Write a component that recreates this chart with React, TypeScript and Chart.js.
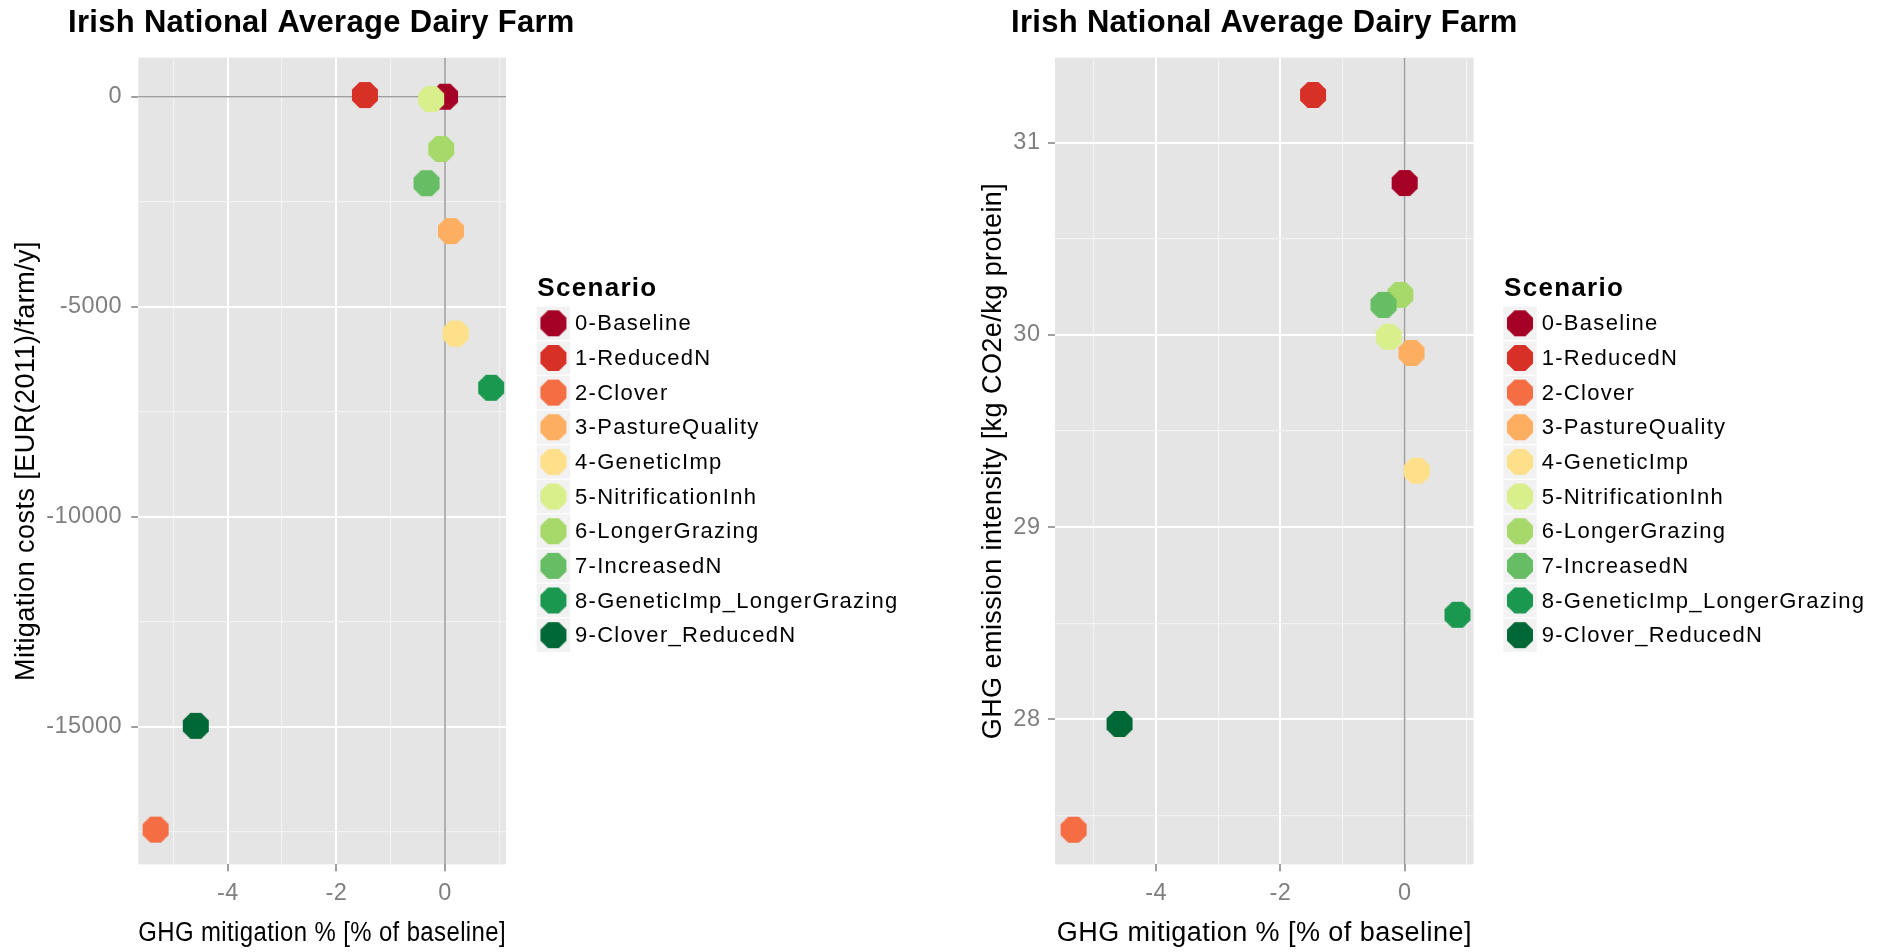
import React, { useEffect, useRef } from 'react';
import { Chart, registerables } from 'chart.js';

Chart.register(...registerables);

const FONT = "'Liberation Sans', Arial, Helvetica, sans-serif";
Chart.defaults.font.family = FONT;

// ---------- data ----------
const scenarios = [
  '0-Baseline',
  '1-ReducedN',
  '2-Clover',
  '3-PastureQuality',
  '4-GeneticImp',
  '5-NitrificationInh',
  '6-LongerGrazing',
  '7-IncreasedN',
  '8-GeneticImp_LongerGrazing',
  '9-Clover_ReducedN',
];

const scenarioColors = [
  '#A50026',
  '#D73027',
  '#F46D43',
  '#FDAE61',
  '#FEE08B',
  '#D9EF8B',
  '#A6D96A',
  '#66BD63',
  '#1A9850',
  '#006837',
];

// GHG mitigation % [% of baseline]
const ghgMitigationPct = [0, -1.475, -5.33, 0.11, 0.195, -0.255, -0.07, -0.34, 0.85, -4.59];
// Mitigation costs [EUR(2011)/farm/y]
const mitigationCosts = [0, 40, -17450, -3200, -5640, -55, -1245, -2060, -6930, -14980];
// GHG emission intensity [kg CO2e/kg protein]
const emissionIntensity = [30.79, 31.248, 27.426, 29.906, 29.293, 29.99, 30.208, 30.156, 28.544, 27.976];

const xMajorTicks = [-4, -2, 0];
const xMinorTicks = [-5, -3, -1, 1];
const costMajorTicks = [-15000, -10000, -5000, 0];
const costMinorTicks = [-17500, -12500, -7500, -2500];
const intensityMajorTicks = [28, 29, 30, 31];
const intensityMinorTicks = [27.5, 28.5, 29.5, 30.5];

const chartTitle = 'Irish National Average Dairy Farm';
const legendTitle = 'Scenario';
const xAxisTitle = 'GHG mitigation % [% of baseline]';
const costAxisTitle = 'Mitigation costs [EUR(2011)/farm/y]';
const intensityAxisTitle = 'GHG emission intensity [kg CO2e/kg protein]';

// ---------- styling ----------
const CANVAS_W = 943;
const CANVAS_H = 952;
const PANEL_BG = '#E5E5E5';
const MINOR_GRID = '#F2F2F2';
const TICK_GREY = '#7F7F7F';
const ZERO_LINE = '#9E9E9E';

function makeOctagon(color: string): HTMLCanvasElement {
  const size = 28;
  const c = document.createElement('canvas');
  c.width = size;
  c.height = size;
  const g = c.getContext('2d')!;
  const cx = size / 2;
  const cy = size / 2;
  const apothem = 13;
  const R = apothem / Math.cos(Math.PI / 8);
  g.beginPath();
  for (let k = 0; k < 8; k++) {
    const a = Math.PI / 8 + (k * Math.PI) / 4;
    const px = cx + R * Math.cos(a);
    const py = cy + R * Math.sin(a);
    if (k === 0) g.moveTo(px, py);
    else g.lineTo(px, py);
  }
  g.closePath();
  g.fillStyle = color;
  g.fill();
  return c;
}

type PanelSpec = {
  yValues: number[];
  yMin: number;
  yMax: number;
  xMin: number;
  xMax: number;
  yMajor: number[];
  yMinor: number[];
  yTitle: string;
  yAxisWidth: number;
  yTitlePadTop: number;
  yTickPad: number;
  paddingRight: number;
  legendBoxX: number;
  legendTextX: number;
  legendTitleX: number;
};

function buildConfig(spec: PanelSpec): any {
  const datasets = scenarios.map((name, i) => ({
    label: name,
    data: [{ x: ghgMitigationPct[i], y: spec.yValues[i] }],
    backgroundColor: scenarioColors[i],
    borderWidth: 0,
    pointRadius: 13,
    pointHoverRadius: 13,
    pointStyle: makeOctagon(scenarioColors[i]),
    order: -i,
  }));

  const isMajorX = (v: number) => xMajorTicks.includes(v);
  const isMajorY = (v: number) => spec.yMajor.includes(v);

  const decorPlugin = {
    id: 'decor',
    beforeDraw(chart: any) {
      const { ctx, chartArea } = chart;
      ctx.save();
      ctx.fillStyle = PANEL_BG;
      ctx.fillRect(chartArea.left, chartArea.top, chartArea.right - chartArea.left, chartArea.bottom - chartArea.top);
      ctx.restore();
      // wider glyph spacing for axis text, like the reference rendering
      (ctx as any).letterSpacing = '0.45px';
    },
    beforeDatasetsDraw(chart: any) {
      const { ctx, chartArea, scales } = chart;
      ctx.save();
      ctx.strokeStyle = ZERO_LINE;
      ctx.lineWidth = 1.6;
      const x0 = scales.x.getPixelForValue(0);
      if (x0 >= chartArea.left && x0 <= chartArea.right) {
        ctx.beginPath();
        ctx.moveTo(x0, chartArea.top);
        ctx.lineTo(x0, chartArea.bottom);
        ctx.stroke();
      }
      if (0 >= spec.yMin && 0 <= spec.yMax) {
        const y0 = scales.y.getPixelForValue(0);
        ctx.beginPath();
        ctx.moveTo(chartArea.left, y0);
        ctx.lineTo(chartArea.right, y0);
        ctx.stroke();
      }
      ctx.restore();
    },
    afterDraw(chart: any) {
      const { ctx } = chart;
      ctx.save();
      // title
      ctx.fillStyle = '#000';
      ctx.textAlign = 'left';
      ctx.textBaseline = 'alphabetic';
      ctx.font = `bold 31px ${FONT}`;
      (ctx as any).letterSpacing = '0.3px';
      ctx.fillText(chartTitle, 68, 31.7);
      // legend
      ctx.font = `bold 26px ${FONT}`;
      (ctx as any).letterSpacing = '1.3px';
      ctx.fillText(legendTitle, spec.legendTitleX, 295.7);
      ctx.font = `22px ${FONT}`;
      (ctx as any).letterSpacing = '1.3px';
      ctx.textBaseline = 'middle';
      const row0 = 323.3;
      const step = 34.65;
      const box = 33.4;
      chart.data.datasets.forEach((ds: any, i: number) => {
        const cy = row0 + i * step;
        ctx.fillStyle = MINOR_GRID;
        ctx.fillRect(spec.legendBoxX, cy - box / 2, box, box);
        const img = ds.pointStyle as HTMLCanvasElement;
        ctx.drawImage(img, spec.legendBoxX + box / 2 - img.width / 2, cy - img.height / 2);
        ctx.fillStyle = '#000';
        ctx.fillText(ds.label, spec.legendTextX, cy + 1);
      });
      ctx.restore();
    },
  };

  return {
    type: 'scatter',
    data: { datasets },
    plugins: [decorPlugin],
    options: {
      animation: false,
      responsive: false,
      devicePixelRatio: 1,
      events: [],
      layout: { padding: { top: 57.7, right: spec.paddingRight, bottom: 0, left: 0 } },
      plugins: {
        legend: { display: false },
        title: { display: false },
        tooltip: { enabled: false },
      },
      scales: {
        x: {
          type: 'linear',
          position: 'bottom',
          min: spec.xMin,
          max: spec.xMax,
          afterBuildTicks: (s: any) => {
            s.ticks = [...xMinorTicks, ...xMajorTicks].sort((a, b) => a - b).map((v) => ({ value: v }));
          },
          afterFit: (s: any) => {
            s.height = 87.7;
          },
          border: { display: false },
          grid: {
            color: (c: any) => (isMajorX(c.tick.value) ? '#FFFFFF' : MINOR_GRID),
            lineWidth: (c: any) => (isMajorX(c.tick.value) ? 2 : 1.2),
            tickColor: (c: any) => (isMajorX(c.tick.value) ? TICK_GREY : 'rgba(0,0,0,0)'),
            tickLength: 7,
            tickWidth: 1.5,
          },
          ticks: {
            autoSkip: false,
            maxRotation: 0,
            padding: 8,
            color: TICK_GREY,
            font: { size: 23.5 },
            callback: (v: any) => (isMajorX(v) ? String(v) : ''),
          },
          title: {
            display: true,
            text: xAxisTitle,
            color: '#000',
            font: { size: 27 },
            padding: { top: 0, bottom: 2.5 },
          },
        },
        y: {
          type: 'linear',
          position: 'left',
          min: spec.yMin,
          max: spec.yMax,
          afterBuildTicks: (s: any) => {
            s.ticks = [...spec.yMinor, ...spec.yMajor].sort((a, b) => a - b).map((v) => ({ value: v }));
          },
          afterFit: (s: any) => {
            s.width = spec.yAxisWidth;
          },
          border: { display: false },
          grid: {
            color: (c: any) => (isMajorY(c.tick.value) ? '#FFFFFF' : MINOR_GRID),
            lineWidth: (c: any) => (isMajorY(c.tick.value) ? 2 : 1.2),
            tickColor: (c: any) => (isMajorY(c.tick.value) ? TICK_GREY : 'rgba(0,0,0,0)'),
            tickLength: 7,
            tickWidth: 1.5,
          },
          ticks: {
            autoSkip: false,
            padding: spec.yTickPad,
            color: TICK_GREY,
            font: { size: 23.5 },
            callback: (v: any) => (isMajorY(v) ? String(v) : ''),
          },
          title: {
            display: true,
            text: spec.yTitle,
            color: '#000',
            font: { size: 27 },
            padding: { top: spec.yTitlePadTop, bottom: 0 },
          },
        },
      },
    },
  };
}

const leftSpec: PanelSpec = {
  yValues: mitigationCosts,
  yMin: -18276,
  yMax: 929,
  xMin: -5.648,
  xMax: 1.123,
  yMajor: costMajorTicks,
  yMinor: costMinorTicks,
  yTitle: costAxisTitle,
  yAxisWidth: 138.3,
  yTitlePadTop: 10.8,
  yTickPad: 9.2,
  paddingRight: CANVAS_W - 506,
  legendBoxX: 536.7,
  legendTextX: 575,
  legendTitleX: 537.3,
};

const rightSpec: PanelSpec = {
  yValues: emissionIntensity,
  yMin: 27.246,
  yMax: 31.442,
  xMin: -5.629,
  xMax: 1.11,
  yMajor: intensityMajorTicks,
  yMinor: intensityMinorTicks,
  yTitle: intensityAxisTitle,
  yAxisWidth: 112,
  yTitlePadTop: 34.1,
  yTickPad: 7.6,
  paddingRight: CANVAS_W - 530.6,
  legendBoxX: 560.3,
  legendTextX: 598.7,
  legendTitleX: 561,
};

export default function App() {
  const leftRef = useRef<HTMLCanvasElement | null>(null);
  const rightRef = useRef<HTMLCanvasElement | null>(null);

  useEffect(() => {
    const charts: Chart[] = [];
    if (leftRef.current) charts.push(new Chart(leftRef.current, buildConfig(leftSpec)));
    if (rightRef.current) charts.push(new Chart(rightRef.current, buildConfig(rightSpec)));
    return () => {
      charts.forEach((c) => c.destroy());
    };
  }, []);

  return (
    <div style={{ position: 'absolute', left: 0, top: 0, width: 1886, height: 952, background: '#FFFFFF' }}>
      <canvas
        ref={leftRef}
        width={CANVAS_W}
        height={CANVAS_H}
        style={{ position: 'absolute', left: 0, top: 0, width: CANVAS_W, height: CANVAS_H, display: 'block' }}
      />
      <canvas
        ref={rightRef}
        width={CANVAS_W}
        height={CANVAS_H}
        style={{ position: 'absolute', left: CANVAS_W, top: 0, width: CANVAS_W, height: CANVAS_H, display: 'block' }}
      />
    </div>
  );
}
